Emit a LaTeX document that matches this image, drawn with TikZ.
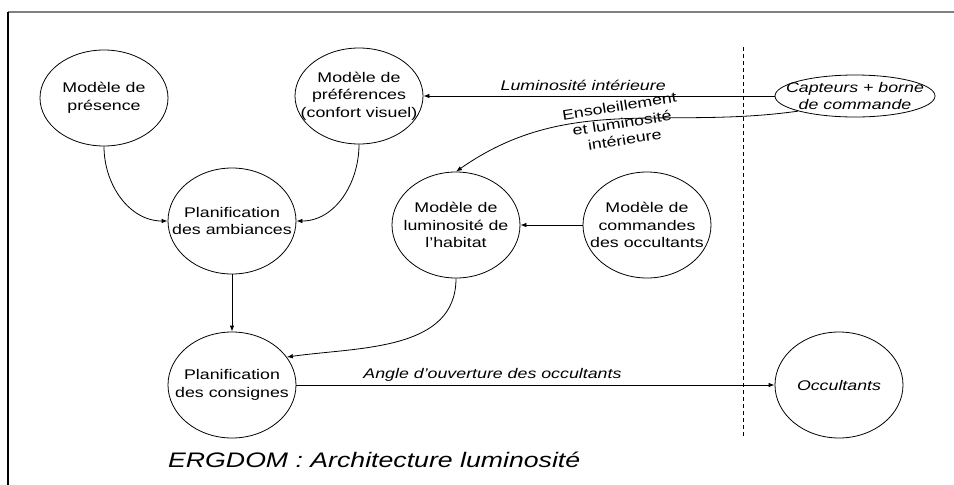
\documentclass[tikz,border=0pt]{standalone}
\usepackage{fontspec}
\setmainfont{Liberation Sans}[FakeStretch=1.27]
\usetikzlibrary{arrows.meta,shapes.geometric}
\begin{document}
\begin{tikzpicture}[x=1pt, y=-1pt,
    model/.style={draw, ellipse, line width=0.8pt, align=center, inner xsep=-16pt, inner ysep=0pt,
      minimum width=128pt, minimum height=106pt, font=\fontsize{14}{17.5}\selectfont},
    flow/.style={-{Latex[length=6pt,width=4.5pt]}, line width=0.8pt},
    lbl/.style={font=\fontsize{14}{17}\selectfont\itshape}]
    \useasboundingbox (0,0) rectangle (954,485);
    \draw[line width=1.4pt, gray] (8,12) -- (954,12);
    \draw[line width=1.4pt] (8,12) -- (8,485);

    \node[model, minimum height=96pt] (pres) at (104,98) {Modèle de\\présence};
    \node[model, minimum height=96pt] (pref) at (359,96) {Modèle de\\préférences\\(confort visuel)};
    \node[model, minimum width=160pt, minimum height=42pt, inner ysep=-2pt,
      font=\fontsize{14}{17}\selectfont\itshape] (capt) at (855,96) {Capteurs + borne\\de commande};
    \node[model] (amb) at (232,221) {Planification\\des ambiances};
    \node[model] (lum) at (456,225) {Modèle de\\luminosité de\\l’habitat};
    \node[model] (cmd) at (647,225) {Modèle de\\commandes\\des occultants};
    \node[model] (cons) at (232,385) {Planification\\des consignes};
    \node[model, font=\fontsize{14}{17.5}\selectfont\itshape] (occ) at (839,385) {Occultants};

    \coordinate (sepTop) at (743,47);
    \coordinate (sepBot) at (743,438);
    \draw[dash pattern=on 4pt off 3pt, line width=0.8pt] (sepTop) -- (sepBot);

    \draw[flow] (pres.south) to[out=-90, in=180] (amb.west);
    \draw[flow] (pref.south) to[out=-90, in=0] (amb.east);
    \draw[flow] (capt.west) -- node[lbl, above, pos=0.545, yshift=2pt] {Luminosité intérieure} (pref.east);
    \draw[flow] (capt.south west) to[out=188, in=35] (lum.north);
    \draw[flow] (cmd.west) -- (lum.east);
    \draw[flow] (amb.south) -- (cons.north);
    \draw[flow] (lum.south) to[out=-90, in=8] (cons.27);
    \draw[flow] (cons.east) -- node[lbl, above, pos=0.41] {Angle d’ouverture des occultants} (occ.west);

    \node[font=\fontsize{14}{17}\selectfont, align=center, rotate=9] (sun) at (622,123) {Ensoleillement\\et luminosité\\intérieure};
    \node[anchor=west, inner sep=0pt, font=\fontsize{21}{25}\selectfont\itshape] (titre) at (168,460) {ERGDOM : Architecture luminosité};
\end{tikzpicture}
\end{document}
